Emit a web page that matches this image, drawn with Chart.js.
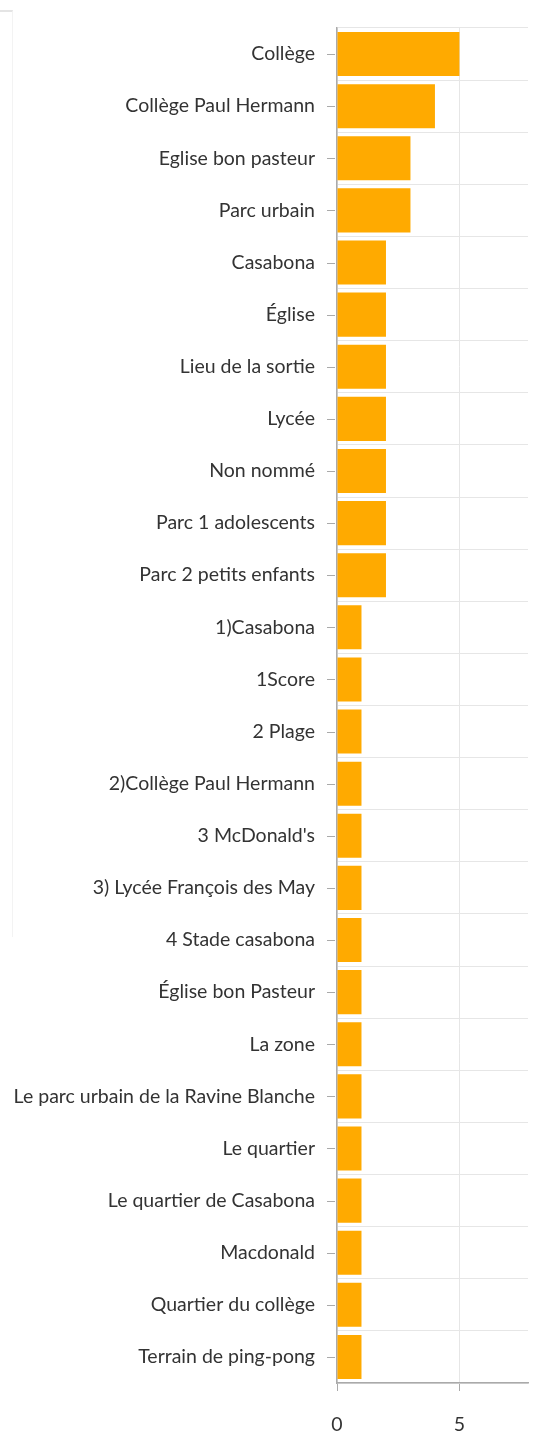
<!DOCTYPE html>
<html>
<head>
<meta charset="utf-8">
<script src="https://cdn.jsdelivr.net/npm/chart.js@4"></script>
<style>
  html, body { margin: 0; padding: 0; background: #fff; }
  #wrap { position: relative; width: 539px; height: 1432px; }
  #edge {
    position: absolute; left: -1px; top: 10px; width: 13px; height: 925px;
    border-top: 2px solid #e4e4e4; border-right: 1px solid #f3f3f3;
  }
  canvas { display: block; }
</style>
</head>
<body>
<div id="wrap">
  <div id="edge"></div>
  <canvas id="chartPlaces" width="539" height="1432"></canvas>
</div>
<script>
// ── Places bar chart (horizontal) ──────────────────────────

const places = [
  "Collège", "Collège Paul Hermann", "Eglise bon pasteur", "Parc urbain",
  "Casabona", "Église", "Lieu de la sortie", "Lycée", "Non nommé",
  "Parc 1 adolescents", "Parc 2 petits enfants", "1)Casabona", "1Score",
  "2 Plage", "2)Collège Paul Hermann", "3 McDonald's",
  "3) Lycée François des May", "4 Stade casabona", "Église bon Pasteur",
  "La zone", "Le parc urbain de la Ravine Blanche", "Le quartier",
  "Le quartier de Casabona", "Macdonald", "Quartier du collège",
  "Terrain de ping-pong",
];
const counts = [
  5, 4, 3, 3, 2, 2, 2, 2, 2, 2, 2, 1, 1,
  1, 1, 1, 1, 1, 1, 1, 1, 1, 1, 1, 1, 1,
];
const xTicks = [0, 5];
const xMax = 7.8;

const fontFamily = "Lato, 'Open Sans', sans-serif";
const textColor = "#333333";
const axisColor = "#aaaaaa";
const gridColor = "#e6e6e6";

// small dashes at each category label (grid lines are offset, ticks are not)
const labelDashes = {
  id: "labelDashes",
  afterDraw(chart) {
    const y = chart.scales.y;
    const ctx = chart.ctx;
    ctx.save();
    ctx.strokeStyle = axisColor;
    ctx.lineWidth = 1;
    y.ticks.forEach((_, i) => {
      const py = Math.round(y.getPixelForTick(i)) + 0.5;
      ctx.beginPath();
      ctx.moveTo(y.right - 10, py);
      ctx.lineTo(y.right - 2, py);
      ctx.stroke();
    });
    ctx.restore();
  },
};

new Chart(document.getElementById("chartPlaces"), {
  type: "bar",
  data: {
    labels: places,
    datasets: [
      {
        data: counts,
        backgroundColor: "#ffaa00",
        borderWidth: 0,
        barPercentage: 0.94,
        categoryPercentage: 0.9,
      },
    ],
  },
  options: {
    indexAxis: "y",
    responsive: false,
    animation: false,
    layout: { padding: { top: 28, right: 11, bottom: 0, left: 0 } },
    plugins: {
      legend: { display: false },
      tooltip: { enabled: false },
    },
    scales: {
      x: {
        min: 0,
        max: xMax,
        afterBuildTicks: (axis) => {
          axis.ticks = xTicks.map((v) => ({ value: v }));
        },
        afterFit: (axis) => {
          axis.height = 49;
          axis.paddingLeft = 0;
          axis.paddingRight = 0;
        },
        border: { color: axisColor, width: 1.5 },
        grid: {
          color: gridColor,
          drawTicks: true,
          tickLength: 8,
          tickColor: axisColor,
        },
        ticks: {
          color: textColor,
          padding: 24,
          font: { family: fontFamily, size: 19.5, lineHeight: 1 },
        },
      },
      y: {
        afterFit: (axis) => {
          axis.width = 337;
          axis.paddingTop = 0;
          axis.paddingBottom = 0;
        },
        border: { color: axisColor, width: 1.5 },
        grid: {
          color: gridColor,
          offset: true,
          drawTicks: false,
        },
        ticks: {
          color: textColor,
          padding: 22,
          autoSkip: false,
          font: { family: fontFamily, size: 19.5 },
        },
      },
    },
  },
  plugins: [labelDashes],
});
</script>
</body>
</html>
